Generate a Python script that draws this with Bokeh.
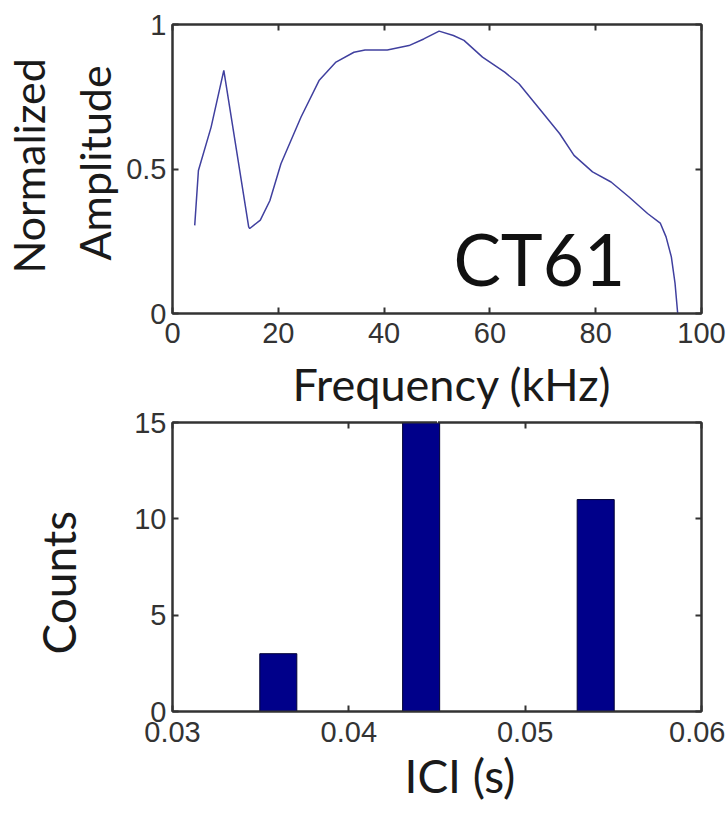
import math
from bokeh.plotting import figure
from bokeh.models import Range1d, LinearAxis, FixedTicker, Label, Title
from bokeh.layouts import column
from bokeh.embed import file_html
from bokeh.resources import INLINE

# ---- data ----
freq_khz = [4.2, 4.9, 7.3, 9.7, 14.4, 14.6, 16.6, 18.4, 20.5, 24.3, 27.7, 30.9, 34.3, 36.4,
            40.6, 44.7, 47.5, 50.4, 53.1, 55.1, 58.6, 62.8, 65.5, 70.4, 73.2, 75.9, 79.4,
            82.9, 86.3, 89.8, 92.2, 93.3, 94.3, 95.0, 95.5]
amplitude = [0.305, 0.495, 0.645, 0.841, 0.300, 0.294, 0.323, 0.390, 0.518, 0.680, 0.806, 0.870,
             0.904, 0.912, 0.912, 0.927, 0.950, 0.977, 0.962, 0.945, 0.887, 0.835, 0.795, 0.685,
             0.622, 0.547, 0.490, 0.455, 0.403, 0.346, 0.313, 0.265, 0.196, 0.104, 0.0]

ici_centers = [0.0360, 0.0441, 0.0540]
ici_counts = [3, 15, 11]

top_xticks = [0, 20, 40, 60, 80, 100]
top_xlabels = ["0", "20", "40", "60", "80", "100"]
top_yticks = [0, 0.5, 1]
top_ylabels = ["0", "0.5", "1"]
bot_xticks = [0.03, 0.04, 0.05, 0.06]
bot_xlabels = ["0.03", "0.04", "0.05", "0.06"]
bot_yticks = [0, 5, 10, 15]
bot_ylabels = ["0", "5", "10", "15"]

TICK_FONT = "Liberation Sans"
LABEL_FONT = "Lato"
AXIS_COLOR = "#333333"


def style_axis(ax, ticks, labels, standoff=10, show_labels=True):
    ax.ticker = FixedTicker(ticks=ticks)
    ax.major_tick_in = 6
    ax.major_tick_out = 0
    ax.minor_tick_in = 0
    ax.minor_tick_out = 0
    ax.major_tick_line_color = AXIS_COLOR
    ax.major_tick_line_width = 2
    ax.axis_line_color = AXIS_COLOR
    ax.axis_line_width = 2
    ax.major_label_text_font = TICK_FONT
    if show_labels:
        ax.major_label_overrides = {t: l for t, l in zip(ticks, labels)}
        ax.major_label_text_font_size = "29px"
        ax.major_label_text_color = "#333333"
        ax.major_label_standoff = standoff
    else:
        ax.major_label_overrides = {t: "" for t in ticks}
        ax.major_label_text_font_size = "1px"
        ax.major_label_text_color = None
        ax.major_label_standoff = 0


def spacer(size, rng):
    # a blank axis (white tick on white ground) that only reserves a gap of `size` pixels
    mid = (rng.start + rng.end) / 2
    return LinearAxis(ticker=FixedTicker(ticks=[mid]), major_tick_out=size, major_tick_in=0,
                      minor_tick_out=0, minor_tick_in=0, major_tick_line_color="white",
                      major_tick_line_width=1, axis_line_color=None,
                      major_label_overrides={mid: ""},
                      major_label_text_color=None, major_label_text_font_size="1px",
                      major_label_standoff=0)


def make_fig(xr, yr, top, bottom):
    p = figure(frame_width=529, frame_height=289, x_range=xr, y_range=yr,
               output_backend="svg", toolbar_location=None,
               min_border_left=169, min_border_right=27,
               min_border_top=top, min_border_bottom=bottom)
    p.grid.visible = False
    p.outline_line_color = AXIS_COLOR
    p.outline_line_width = 2
    p.background_fill_color = "white"
    p.border_fill_color = "white"
    return p


def add_title(p, text, side, offset, size="44px", standoff=0):
    p.add_layout(Title(text=text, align="left", offset=offset, standoff=standoff,
                       text_font=LABEL_FONT, text_font_size=size,
                       text_font_style="normal", text_color="#1a1a1a"), side)


# ---- top: spectrum ----
p1 = make_fig(Range1d(0, 100), Range1d(0, 1), 24, 41)
p1.line(freq_khz, amplitude, line_color="#40409f", line_width=1.5)
style_axis(p1.xaxis[0], top_xticks, top_xlabels, standoff=9)
style_axis(p1.yaxis[0], top_yticks, top_ylabels, standoff=6)
ax_top = LinearAxis()
style_axis(ax_top, top_xticks, top_xlabels, show_labels=False)
p1.add_layout(ax_top, "above")
ax_right = LinearAxis()
style_axis(ax_right, top_yticks, top_ylabels, show_labels=False)
p1.add_layout(ax_right, "right")

p1.add_layout(Label(x=53.1, y=0.19, text="CT61", text_font=LABEL_FONT,
                    text_font_size="71px", text_align="left",
                    text_baseline="alphabetic", text_color="#111111"))
add_title(p1, "Amplitude", "left", 53, size="43px", standoff=8)
p1.add_layout(spacer(9, p1.y_range), "left")
add_title(p1, "Normalized", "left", 40, size="43px", standoff=0)

# ---- bottom: ICI histogram ----
p2 = make_fig(Range1d(0.03, 0.06), Range1d(0, 15), 0, 0)
p2.vbar(x=ici_centers, top=ici_counts, width=0.0021, bottom=0,
        fill_color="#00008a", line_color="#000033", line_width=1)
style_axis(p2.xaxis[0], bot_xticks, bot_xlabels, standoff=10)
style_axis(p2.yaxis[0], bot_yticks, bot_ylabels, standoff=6)
ax_top2 = LinearAxis()
style_axis(ax_top2, bot_xticks, bot_xlabels, show_labels=False)
p2.add_layout(ax_top2, "above")
ax_right2 = LinearAxis()
style_axis(ax_right2, bot_yticks, bot_ylabels, show_labels=False)
p2.add_layout(ax_right2, "right")

# label of the upper plot's x axis sits in the gap between the plots
p2.add_layout(spacer(12, p2.x_range), "above")
add_title(p2, "Frequency (kHz)", "above", 120, size="45px", standoff=0)
add_title(p2, "ICI (s)", "below", 232, size="46px", standoff=2)
p2.add_layout(spacer(46, p2.y_range), "left")
add_title(p2, "Counts", "left", 57, size="46px", standoff=0)

layout = column(p1, p2, spacing=0)
open("out.html", "w").write(file_html(layout, INLINE))
